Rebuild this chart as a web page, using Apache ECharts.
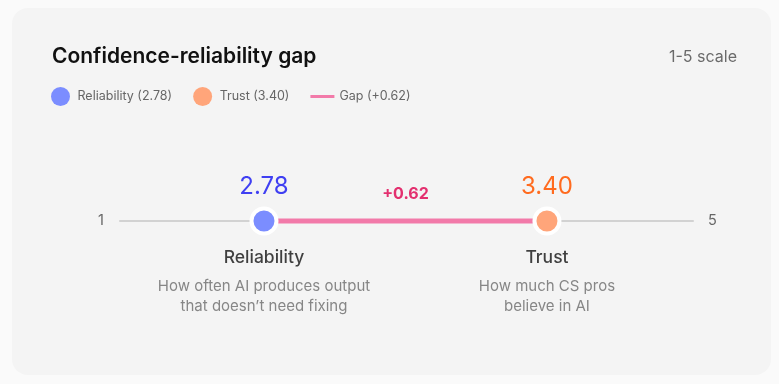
<!DOCTYPE html>
<html>
<head>
<meta charset="utf-8">
<script src="https://cdn.jsdelivr.net/npm/echarts@6/dist/echarts.min.js"></script>
<style>
html,body{margin:0;padding:0;background:#fafafa;}
#chart{width:779px;height:384px;}
</style>
</head>
<body>
<div id="chart"></div>
<script>
const title = 'Confidence-reliability gap';
const scaleNote = '1-5 scale';
const metrics = ['Reliability', 'Trust'];
const values = [2.78, 3.40];
const descriptions = [
  ['How often AI produces output', 'that doesn\u2019t need fixing'],
  ['How much CS pros', 'believe in AI']
];
const scaleEnds = ['1', '5'];
const gapName = 'Gap';

const FONT = 'Inter, "Noto Sans", sans-serif';
const dotColors = ['#7b8dff', '#ffa57a'];
const valueColors = ['#3f3ff2', '#ff6b1f'];
const gapColor = '#f27aa9';
const gap = values[1] - values[0];
const gapLabel = '+' + gap.toFixed(2);
const legendNames = [
  metrics[0] + ' (' + values[0].toFixed(2) + ')',
  metrics[1] + ' (' + values[1].toFixed(2) + ')',
  gapName + ' (' + gapLabel + ')'
];

const chart = echarts.init(document.getElementById('chart'), null, {renderer: 'canvas'});

const pointSeries = metrics.map((m, i) => ({
  name: legendNames[i],
  type: 'scatter',
  z: 5,
  data: [[values[i], 0]],
  symbolSize: 25,
  itemStyle: {color: dotColors[i], borderColor: '#ffffff', borderWidth: 4, opacity: 1},
  label: {
    show: true, position: 'top', distance: 8,
    formatter: p => p.value[0].toFixed(2),
    fontFamily: FONT, fontSize: 24, color: valueColors[i]
  },
  emphasis: {disabled: true}
}));

const textSeries = metrics.map((m, i) => ({
  name: m + ' text',
  type: 'scatter',
  z: 1,
  data: [[values[i], 0]],
  symbolSize: 1,
  itemStyle: {color: 'rgba(0,0,0,0)'},
  label: {
    show: true, position: 'bottom', distance: 17,
    formatter: '{n|' + m + '}\n' + descriptions[i].map(d => '{d|' + d + '}').join('\n'),
    rich: {
      n: {fontFamily: FONT, fontSize: 17.5, fontWeight: 500, color: '#111111', lineHeight: 38, align: 'center'},
      d: {fontFamily: FONT, fontSize: 15, color: '#6a6a6a', lineHeight: 20, align: 'center'}
    }
  },
  emphasis: {disabled: true}
}));

const option = {
  backgroundColor: '#fafafa',
  animation: false,
  graphic: [
    {type: 'rect', z: -10, shape: {x: 12, y: 8, width: 759, height: 367, r: 16}, style: {fill: '#f4f4f4'}},
    {type: 'text', left: 98, top: 213, style: {text: scaleEnds[0], fontFamily: FONT, fontSize: 14.5, fill: '#666666'}},
    {type: 'text', left: 708, top: 213, style: {text: scaleEnds[1], fontFamily: FONT, fontSize: 14.5, fill: '#666666'}}
  ],
  title: [
    {text: title, left: 47, top: 41, textStyle: {fontFamily: FONT, fontSize: 21, fontWeight: 600, color: '#111111'}},
    {text: scaleNote, right: 37, top: 44, textStyle: {fontFamily: FONT, fontSize: 16, fontWeight: 400, color: '#6a6a6a'}}
  ],
  legend: {
    left: 46, top: 82, itemWidth: 24, itemHeight: 19, itemGap: 21,
    selectedMode: false,
    itemStyle: {borderWidth: 0},
    textStyle: {fontFamily: FONT, fontSize: 12.5, color: '#666666'},
    data: [
      {name: legendNames[0], icon: 'circle'},
      {name: legendNames[1], icon: 'circle'},
      {name: legendNames[2], icon: 'path://M0,0 M0,8 L24,8 L24,11 L0,11 Z M24,19'}
    ]
  },
  grid: {left: 120, right: 86, top: 121, bottom: 63},
  xAxis: {
    type: 'value', min: 2.4645, max: 3.72,
    axisLine: {show: true, onZero: true, lineStyle: {color: '#d2d2d2', width: 2}},
    axisTick: {show: false}, axisLabel: {show: false}, splitLine: {show: false}
  },
  yAxis: {
    type: 'value', min: -1, max: 1, show: false,
    axisLine: {show: false}, splitLine: {show: false}
  },
  series: [
    {
      name: legendNames[2],
      type: 'line',
      z: 3,
      data: [[values[0], 0], [values[1], 0]],
      symbol: 'none',
      lineStyle: {color: gapColor, width: 5},
      itemStyle: {color: gapColor},
      markPoint: {
        symbol: 'circle', symbolSize: 0,
        data: [{coord: [(values[0] + values[1]) / 2, 0], value: gapLabel}],
        label: {
          show: true, offset: [0, -27], formatter: gapLabel,
          fontFamily: FONT, fontSize: 16, fontWeight: 700, color: '#e3306f'
        }
      },
      emphasis: {disabled: true}
    },
    ...pointSeries,
    ...textSeries
  ]
};
chart.setOption(option);
</script>
</body>
</html>
